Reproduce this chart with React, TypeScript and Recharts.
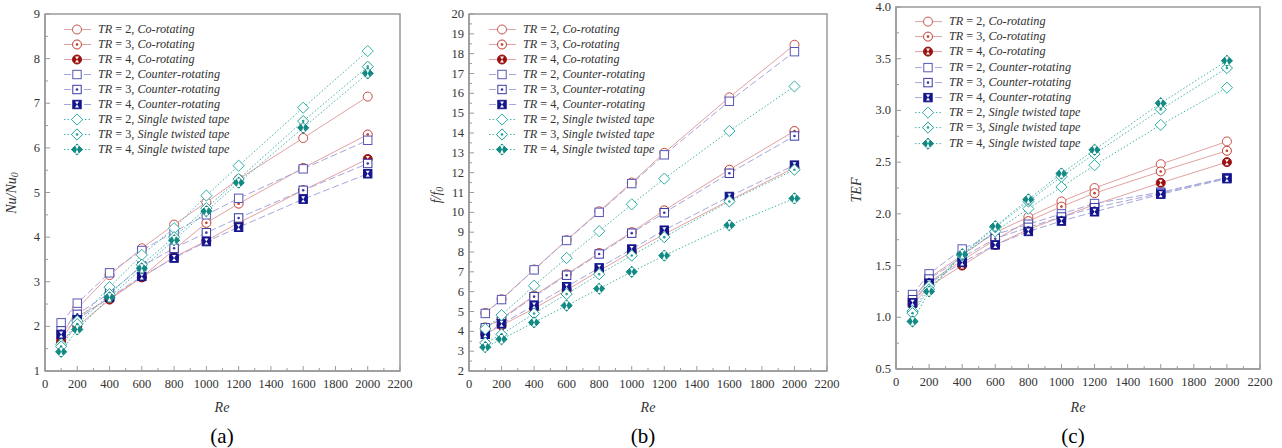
import React from 'react';
import { LineChart, Line, XAxis, YAxis, ReferenceArea, Legend } from 'recharts';

// ---------- data ----------
const RE = [100, 200, 400, 600, 800, 1000, 1200, 1600, 2000];

const NU_CO_TR2 = [1.75, 2.4, 3.15, 3.75, 4.28, 4.78, 5.3, 6.22, 7.15];
const NU_CO_TR3 = [1.7, 2.22, 2.62, 3.1, 3.72, 4.32, 4.75, 5.55, 6.3];
const NU_CO_TR4 = [1.65, 2.0, 2.6, 3.1, 3.55, 3.92, 4.32, 5.05, 5.75];
const NU_CT_TR2 = [2.08, 2.52, 3.2, 3.7, 4.12, 4.5, 4.87, 5.53, 6.17];
const NU_CT_TR3 = [1.9, 2.27, 2.75, 3.35, 3.75, 4.1, 4.43, 5.05, 5.65];
const NU_CT_TR4 = [1.82, 2.15, 2.65, 3.12, 3.53, 3.9, 4.22, 4.85, 5.42];
const NU_ST_TR2 = [1.6, 2.12, 2.88, 3.6, 4.2, 4.93, 5.6, 6.9, 8.17];
const NU_ST_TR3 = [1.55, 2.05, 2.72, 3.38, 4.0, 4.65, 5.3, 6.6, 7.82];
const NU_ST_TR4 = [1.43, 1.93, 2.65, 3.3, 3.93, 4.58, 5.22, 6.45, 7.67];

const F_CO_TR2 = [4.93, 5.62, 7.12, 8.6, 10.05, 11.5, 13.0, 15.8, 18.45];
const F_CO_TR3 = [4.2, 4.65, 5.8, 6.88, 7.95, 9.0, 10.1, 12.15, 14.1];
const F_CO_TR4 = [3.85, 4.3, 5.15, 6.08, 7.05, 8.0, 8.9, 10.6, 12.25];
const F_CT_TR2 = [4.9, 5.6, 7.1, 8.58, 10.0, 11.45, 12.9, 15.6, 18.1];
const F_CT_TR3 = [4.18, 4.6, 5.75, 6.83, 7.9, 8.95, 9.98, 11.97, 13.85];
const F_CT_TR4 = [3.85, 4.38, 5.3, 6.25, 7.2, 8.15, 9.1, 10.8, 12.38];
const F_ST_TR2 = [4.12, 4.82, 6.3, 7.7, 9.05, 10.4, 11.7, 14.1, 16.35];
const F_ST_TR3 = [3.42, 3.85, 4.9, 5.88, 6.88, 7.82, 8.75, 10.55, 12.15];
const F_ST_TR4 = [3.2, 3.6, 4.45, 5.3, 6.15, 7.0, 7.82, 9.35, 10.7];

const T_CO_TR2 = [1.17, 1.38, 1.6, 1.82, 1.97, 2.12, 2.25, 2.48, 2.7];
const T_CO_TR3 = [1.15, 1.34, 1.55, 1.75, 1.93, 2.07, 2.2, 2.41, 2.61];
const T_CO_TR4 = [1.12, 1.3, 1.5, 1.7, 1.85, 1.97, 2.09, 2.3, 2.5];
const T_CT_TR2 = [1.22, 1.42, 1.66, 1.8, 1.9, 2.0, 2.1, 2.21, 2.35];
const T_CT_TR3 = [1.17, 1.37, 1.58, 1.76, 1.87, 1.97, 2.06, 2.2, 2.35];
const T_CT_TR4 = [1.14, 1.33, 1.53, 1.7, 1.83, 1.93, 2.02, 2.19, 2.34];
const T_ST_TR2 = [1.06, 1.3, 1.6, 1.83, 2.05, 2.26, 2.47, 2.86, 3.22];
const T_ST_TR3 = [1.04, 1.27, 1.6, 1.87, 2.12, 2.36, 2.58, 3.01, 3.41];
const T_ST_TR4 = [0.96, 1.25, 1.61, 1.88, 2.14, 2.39, 2.62, 3.07, 3.48];

const X_TICKS = [0, 100, 200, 300, 400, 500, 600, 700, 800, 900, 1000, 1100, 1200, 1300, 1400, 1500, 1600, 1700, 1800, 1900, 2000, 2100, 2200];
const Y_TICKS_NU = [1, 1.5, 2, 2.5, 3, 3.5, 4, 4.5, 5, 5.5, 6, 6.5, 7, 7.5, 8, 8.5, 9];
const Y_TICKS_F = [2, 2.5, 3, 3.5, 4, 4.5, 5, 5.5, 6, 6.5, 7, 7.5, 8, 8.5, 9, 9.5, 10, 10.5, 11, 11.5, 12, 12.5, 13, 13.5, 14, 14.5, 15, 15.5, 16, 16.5, 17, 17.5, 18, 18.5, 19, 19.5, 20];
const Y_TICKS_TEF = [0.5, 0.75, 1, 1.25, 1.5, 1.75, 2, 2.25, 2.5, 2.75, 3, 3.25, 3.5, 3.75, 4];

const SERIES_TR = ['2', '3', '4', '2', '3', '4', '2', '3', '4'];
const SERIES_NAMES = ['Co-rotating', 'Co-rotating', 'Co-rotating', 'Counter-rotating', 'Counter-rotating', 'Counter-rotating', 'Single twisted tape', 'Single twisted tape', 'Single twisted tape'];
const SERIES_KEYS = ['co2', 'co3', 'co4', 'ct2', 'ct3', 'ct4', 'st2', 'st3', 'st4'];

// ---------- styles ----------
const FONT = '"Liberation Serif", "DejaVu Serif", serif';
const AXIS = '#9a9a9a';
const TXT = '#333';

type Sty = { shape: 'circle' | 'square' | 'diamond'; variant: 0 | 1 | 2; color: string; line: string; dash?: string };
const STYLES: Sty[] = [
  { shape: 'circle', variant: 0, color: '#c8504a', line: '#e2a2a2' },
  { shape: 'circle', variant: 1, color: '#c0392b', line: '#e2a2a2' },
  { shape: 'circle', variant: 2, color: '#9b1010', line: '#e2a2a2' },
  { shape: 'square', variant: 0, color: '#5858b8', line: '#a6a6dc', dash: '7 3' },
  { shape: 'square', variant: 1, color: '#3a3aa6', line: '#a6a6dc', dash: '7 3' },
  { shape: 'square', variant: 2, color: '#14148c', line: '#a6a6dc', dash: '7 3' },
  { shape: 'diamond', variant: 0, color: '#2fb0a8', line: '#46b4ac', dash: '1.5 2' },
  { shape: 'diamond', variant: 1, color: '#22a39a', line: '#46b4ac', dash: '1.5 2' },
  { shape: 'diamond', variant: 2, color: '#128a84', line: '#46b4ac', dash: '1.5 2' },
];

function Marker({ s, cx, cy }: { s: Sty; cx: number; cy: number }) {
  const fill = s.variant === 2 ? s.color : '#fff';
  let body: React.ReactNode;
  let h = 4.2;
  if (s.shape === 'circle') {
    body = <circle cx={cx} cy={cy} r={4.5} fill={fill} stroke={s.color} strokeWidth={1} />;
  } else if (s.shape === 'square') {
    h = 4.2;
    body = <rect x={cx - 4.2} y={cy - 4.2} width={8.4} height={8.4} fill={fill} stroke={s.color} strokeWidth={1} />;
  } else {
    h = 5.4;
    body = (
      <polygon
        points={`${cx},${cy - 5.6} ${cx + 5.6},${cy} ${cx},${cy + 5.6} ${cx - 5.6},${cy}`}
        fill={fill}
        stroke={s.color}
        strokeWidth={1}
      />
    );
  }
  return (
    <g>
      {body}
      {s.variant === 1 && <circle cx={cx} cy={cy} r={1.3} fill={s.color} />}
      {s.variant === 2 && (
        <g fill="#fff">
          <polygon points={`${cx - 2},${cy - h + 1.2} ${cx + 2},${cy - h + 1.2} ${cx},${cy}`} />
          <polygon points={`${cx - 2},${cy + h - 1.2} ${cx + 2},${cy + h - 1.2} ${cx},${cy}`} />
        </g>
      )}
    </g>
  );
}

function LegendBox({ rowH }: { rowH: number }) {
  return (
    <div style={{ fontFamily: FONT, fontSize: 12.2, color: TXT, lineHeight: `${rowH}px` }}>
      {SERIES_KEYS.map((k, i) => (
        <div key={k} style={{ display: 'flex', alignItems: 'center', height: rowH, whiteSpace: 'nowrap' }}>
          <svg width={34} height={rowH} style={{ display: 'block' }}>
            <line x1={0} x2={27} y1={rowH / 2} y2={rowH / 2} stroke={STYLES[i].line} strokeWidth={1} strokeDasharray={STYLES[i].dash} />
            <Marker s={STYLES[i]} cx={13} cy={rowH / 2} />
          </svg>
          <span>
            <i>TR</i> = {SERIES_TR[i]}, <i>{SERIES_NAMES[i]}</i>
          </span>
        </div>
      ))}
    </div>
  );
}

const makeXTick = (props: any) => {
  const { x, y, payload } = props;
  const v = payload.value as number;
  const major = v % 200 === 0;
  return (
    <g>
      <line x1={x} x2={x} y1={y} y2={y - (major ? 5 : 3)} stroke={AXIS} strokeWidth={1} />
      {major && (
        <text x={x} y={y + 17} textAnchor="middle" fontFamily={FONT} fontSize={12.5} fill={TXT}>
          {v}
        </text>
      )}
    </g>
  );
};

const makeYTick = (isMajor: (v: number) => boolean, fmt: (v: number) => string) => (props: any) => {
  const { x, y, payload } = props;
  const v = payload.value as number;
  const major = isMajor(v);
  return (
    <g>
      <line x1={x} x2={x + (major ? 5 : 3)} y1={y} y2={y} stroke={AXIS} strokeWidth={1} />
      {major && (
        <text x={x - 5} y={y + 4} textAnchor="end" fontFamily={FONT} fontSize={12.5} fill={TXT}>
          {fmt(v)}
        </text>
      )}
    </g>
  );
};

type PanelProps = {
  left: number;
  width: number;
  yAxisWidth: number;
  marginRight: number;
  marginTop: number;
  marginBottom: number;
  series: number[][];
  yDomain: [number, number];
  yTicks: number[];
  isMajor: (v: number) => boolean;
  fmt: (v: number) => string;
  legendLeft: number;
  legendTop: number;
  rowH: number;
};

function Panel(p: PanelProps) {
  const data = RE.map((re, i) => {
    const row: Record<string, number> = { re };
    SERIES_KEYS.forEach((k, j) => {
      row[k] = p.series[j][i];
    });
    return row;
  });
  return (
    <div style={{ position: 'absolute', left: p.left, top: 0, width: p.width, height: 448 }}>
      <LineChart
        width={p.width}
        height={448}
        data={data}
        margin={{ top: p.marginTop, right: p.marginRight, left: 0, bottom: p.marginBottom }}
      >
        <XAxis
          type="number"
          dataKey="re"
          domain={[0, 2200]}
          ticks={X_TICKS}
          interval={0}
          tickSize={0}
          tickMargin={0}
          tickLine={false}
          tick={makeXTick}
          axisLine={{ stroke: AXIS, strokeWidth: 1.5 }}
          height={30}
          allowDataOverflow
        />
        <YAxis
          type="number"
          domain={p.yDomain}
          ticks={p.yTicks}
          interval={0}
          tickSize={0}
          tickMargin={0}
          tickLine={false}
          tick={makeYTick(p.isMajor, p.fmt)}
          axisLine={{ stroke: AXIS, strokeWidth: 1.5 }}
          width={p.yAxisWidth}
          allowDataOverflow
        />
        <ReferenceArea x1={0} x2={2200} y1={p.yDomain[0]} y2={p.yDomain[1]} fill="none" stroke={AXIS} strokeWidth={1.5} />
        {SERIES_KEYS.map((k, i) => (
          <Line
            key={k}
            dataKey={k}
            name={`TR = ${SERIES_TR[i]}, ${SERIES_NAMES[i]}`}
            type="linear"
            stroke={STYLES[i].line}
            strokeWidth={1}
            strokeDasharray={STYLES[i].dash}
            isAnimationActive={false}
            dot={(dp: any) => (
              <g key={`${k}-${dp.index}`}>
                <Marker s={STYLES[i]} cx={dp.cx} cy={dp.cy} />
              </g>
            )}
            activeDot={false}
          />
        ))}
        <Legend
          layout="vertical"
          align="center"
          verticalAlign="middle"
          wrapperStyle={{ left: p.legendLeft, top: p.legendTop, width: 'auto', height: 'auto' }}
          content={() => <LegendBox rowH={p.rowH} />}
        />
      </LineChart>
    </div>
  );
}

const isInt = (v: number) => Math.abs(v - Math.round(v)) < 1e-6;
const isHalf = (v: number) => Math.abs(v * 2 - Math.round(v * 2)) < 1e-6;

export default function App() {
  return (
    <div style={{ position: 'absolute', left: 0, top: 0, width: 1282, height: 448, background: '#fff', overflow: 'hidden' }}>
      <Panel
        left={0}
        width={430}
        yAxisWidth={45}
        marginRight={30}
        marginTop={14}
        marginBottom={47}
        series={[NU_CO_TR2, NU_CO_TR3, NU_CO_TR4, NU_CT_TR2, NU_CT_TR3, NU_CT_TR4, NU_ST_TR2, NU_ST_TR3, NU_ST_TR4]}
        yDomain={[1, 9]}
        yTicks={Y_TICKS_NU}
        isMajor={isInt}
        fmt={(v) => String(v)}
        legendLeft={64}
        legendTop={22}
        rowH={15}
      />
      <Panel
        left={430}
        width={430}
        yAxisWidth={39}
        marginRight={33}
        marginTop={14}
        marginBottom={47}
        series={[F_CO_TR2, F_CO_TR3, F_CO_TR4, F_CT_TR2, F_CT_TR3, F_CT_TR4, F_ST_TR2, F_ST_TR3, F_ST_TR4]}
        yDomain={[2, 20]}
        yTicks={Y_TICKS_F}
        isMajor={isInt}
        fmt={(v) => String(v)}
        legendLeft={59}
        legendTop={22}
        rowH={15}
      />
      <Panel
        left={860}
        width={422}
        yAxisWidth={36}
        marginRight={22}
        marginTop={7}
        marginBottom={49}
        series={[T_CO_TR2, T_CO_TR3, T_CO_TR4, T_CT_TR2, T_CT_TR3, T_CT_TR4, T_ST_TR2, T_ST_TR3, T_ST_TR4]}
        yDomain={[0.5, 4]}
        yTicks={Y_TICKS_TEF}
        isMajor={isHalf}
        fmt={(v) => v.toFixed(1)}
        legendLeft={55}
        legendTop={14}
        rowH={15.2}
      />
      <svg
        width={1282}
        height={448}
        style={{ position: 'absolute', left: 0, top: 0, pointerEvents: 'none' }}
        fontFamily={FONT}
        fill={TXT}
      >
        <text x={13} y={193} transform="rotate(-90 13 193)" textAnchor="middle" fontSize={14} fontStyle="italic" dominantBaseline="middle">
          Nu/Nu<tspan fontSize={10} dy={3}>0</tspan>
        </text>
        <text x={438} y={195} transform="rotate(-90 438 195)" textAnchor="middle" fontSize={14} fontStyle="italic" dominantBaseline="middle">
          f/f<tspan fontSize={10} dy={3}>0</tspan>
        </text>
        <text x={858} y={190} transform="rotate(-90 858 190)" textAnchor="middle" fontSize={14} fontStyle="italic" dominantBaseline="middle">
          TEF
        </text>
        <text x={222} y={412} textAnchor="middle" fontSize={14} fontStyle="italic">Re</text>
        <text x={648} y={412} textAnchor="middle" fontSize={14} fontStyle="italic">Re</text>
        <text x={1078} y={412} textAnchor="middle" fontSize={14} fontStyle="italic">Re</text>
        <text x={222} y={443} textAnchor="middle" fontSize={21} fill="#000">(a)</text>
        <text x={643} y={443} textAnchor="middle" fontSize={21} fill="#000">(b)</text>
        <text x={1073} y={443} textAnchor="middle" fontSize={21} fill="#000">(c)</text>
      </svg>
    </div>
  );
}
